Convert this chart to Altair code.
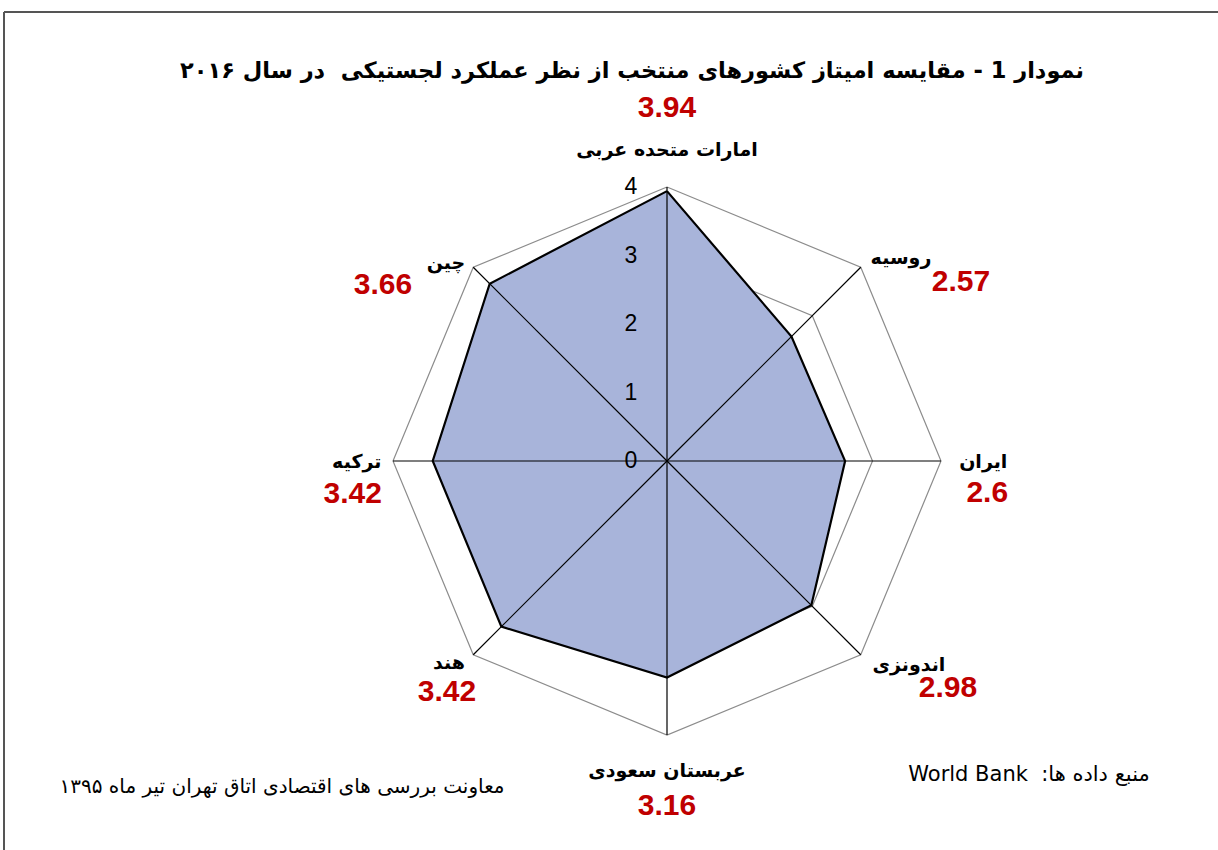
import math
import altair as alt
import pandas as pd

# ---------------- data ----------------
countries = ["امارات متحده عربی", "روسیه", "ایران", "اندونزی",
             "عربستان سعودی", "هند", "ترکیه", "چین"]
values = [3.94, 2.57, 2.6, 2.98, 3.16, 3.42, 3.42, 3.66]
value_text = ["3.94", "2.57", "2.6", "2.98", "3.16", "3.42", "3.42", "3.66"]
ticks = [0, 1, 2, 3, 4]
tick_text = ["0", "1", "2", "3", "4"]
title_text = "نمودار 1 - مقایسه امیتاز کشورهای منتخب از نظر عملکرد لجستیکی\u00a0\u00a0در سال ۲۰۱۶"
footer_left = "معاونت بررسی های اقتصادی اتاق تهران تیر ماه ۱۳۹۵"
footer_right = "World Bank\u00a0\u00a0:منبع داده ها"

# ---------------- layout (pixels) ----------------
W, H = 1218, 850
CX, CY = 667, 461
PX = 68.5              # pixels per unit of score
LABEL_R = 4.5          # radius of category labels (score units)
# small nudges of category labels (px, +right, +down) and of value text relative to label
label_nudge = [(0, -3), (16, 15), (8, 1), (24, -14), (0, 2), (0, -16), (-2, 1), (-3, 20)]
value_nudge = [(0, -42), (60, 24), (4, 31), (39, 23), (0, 35), (-2, 29), (-4, 32), (-63, 22)]

n = len(countries)
angles = [i * 2 * math.pi / n for i in range(n)]
rmax = max(ticks)

xs = alt.Scale(domain=[-CX / PX, (W - CX) / PX], nice=False, zero=False)
ys = alt.Scale(domain=[-(H - CY) / PX, CY / PX], nice=False, zero=False)


def X(f="x"):
    return alt.X(f"{f}:Q", scale=xs, axis=None)


def Y(f="y"):
    return alt.Y(f"{f}:Q", scale=ys, axis=None)


polar = "datum.r * sin(datum.a)", "datum.r * cos(datum.a)"

# polygon of values (closed)
poly_df = pd.DataFrame({
    "idx": list(range(n + 1)),
    "r": values + [values[0]],
    "a": angles + [angles[0]],
})

# grid octagons
grid_rows = []
for t in ticks[1:]:
    for i in range(n + 1):
        grid_rows.append({"level": t, "idx": i, "r": t, "a": angles[i % n]})
grid_df = pd.DataFrame(grid_rows)

# spokes
spoke_df = pd.DataFrame({"a": angles, "r": [rmax] * n, "r0": [0] * n})

# tick labels
tick_df = pd.DataFrame({"t": tick_text, "r": ticks, "a": [0] * len(ticks)})

# category labels and values
lab_df = pd.DataFrame({
    "name": countries,
    "val": value_text,
    "a": angles,
    "r": [LABEL_R] * n,
    "nx": [p[0] for p in label_nudge],
    "ny": [p[1] for p in label_nudge],
    "vx": [p[0] for p in value_nudge],
    "vy": [p[1] for p in value_nudge],
})

grid = alt.Chart(grid_df).transform_calculate(x=polar[0], y=polar[1]).mark_line(
    color="#8c8c8c", strokeWidth=1.2
).encode(x=X(), y=Y(), detail="level:N", order="idx:Q")

poly_fill = alt.Chart(poly_df).transform_calculate(x=polar[0], y=polar[1]).mark_line(
    fill="#A8B4DA", stroke="#A8B4DA", strokeWidth=0, fillOpacity=1
).encode(x=X(), y=Y(), order="idx:Q")

spokes = alt.Chart(spoke_df).transform_calculate(
    x="datum.r * sin(datum.a)", y="datum.r * cos(datum.a)", x0="0", y0="0"
).mark_rule(color="black", strokeWidth=1.2).encode(
    x=X("x0"), y=Y("y0"), x2="x:Q", y2="y:Q"
)

poly_line = alt.Chart(poly_df).transform_calculate(x=polar[0], y=polar[1]).mark_line(
    color="black", strokeWidth=2.2
).encode(x=X(), y=Y(), order="idx:Q")

tick_labels = alt.Chart(tick_df).transform_calculate(x=polar[0], y=polar[1]).mark_text(
    font="Liberation Sans", fontSize=23, color="black", align="center", baseline="middle", dx=-36
).encode(x=X(), y=Y(), text="t:N")

cat_labels = alt.Chart(lab_df).transform_calculate(
    x=f"datum.r * sin(datum.a) + datum.nx / {PX}",
    y=f"datum.r * cos(datum.a) - datum.ny / {PX}",
).mark_text(
    font="DejaVu Sans", fontSize=19, fontWeight="bold", color="black",
    align="center", baseline="middle"
).encode(x=X(), y=Y(), text="name:N")

val_labels = alt.Chart(lab_df).transform_calculate(
    x=f"datum.r * sin(datum.a) + (datum.nx + datum.vx) / {PX}",
    y=f"datum.r * cos(datum.a) - (datum.ny + datum.vy) / {PX}",
).mark_text(
    font="Liberation Sans", fontSize=30, fontWeight="bold", color="#C00000",
    align="center", baseline="middle"
).encode(x=X(), y=Y(), text="val:N")

texts_df = pd.DataFrame({"k": ["title", "fl", "fr"],
                         "t": [title_text, footer_left, footer_right]})

title = alt.Chart(texts_df).transform_filter("datum.k == 'title'").mark_text(
    font="DejaVu Sans", fontSize=22.5, fontWeight="bold", color="black",
    align="center", baseline="middle"
).encode(x=alt.value(632), y=alt.value(71), text="t:N")

foot_l = alt.Chart(texts_df).transform_filter("datum.k == 'fl'").mark_text(
    font="DejaVu Sans", fontSize=20, color="black", align="center", baseline="middle"
).encode(x=alt.value(282), y=alt.value(787), text="t:N")

foot_r = alt.Chart(texts_df).transform_filter("datum.k == 'fr'").mark_text(
    font="DejaVu Sans", fontSize=21, color="black", align="center", baseline="middle"
).encode(x=alt.value(1029), y=alt.value(775), text="t:N")

frame_top = alt.Chart(texts_df).transform_filter("datum.k == 'title'").mark_rule(
    color="#555555", strokeWidth=2
).encode(x=alt.value(4), x2=alt.value(W), y=alt.value(12))

frame_left = alt.Chart(texts_df).transform_filter("datum.k == 'title'").mark_rule(
    color="#555555", strokeWidth=2
).encode(x=alt.value(4), y=alt.value(12), y2=alt.value(H))

chart = alt.layer(
    frame_top, frame_left, grid, poly_fill, spokes, poly_line,
    tick_labels, cat_labels, val_labels, title, foot_l, foot_r
).properties(
    width=W, height=H, padding=0, autosize="none", background="white"
).configure_view(stroke=None)

chart.save("out.html", embed_options={"renderer": "svg", "actions": False})
